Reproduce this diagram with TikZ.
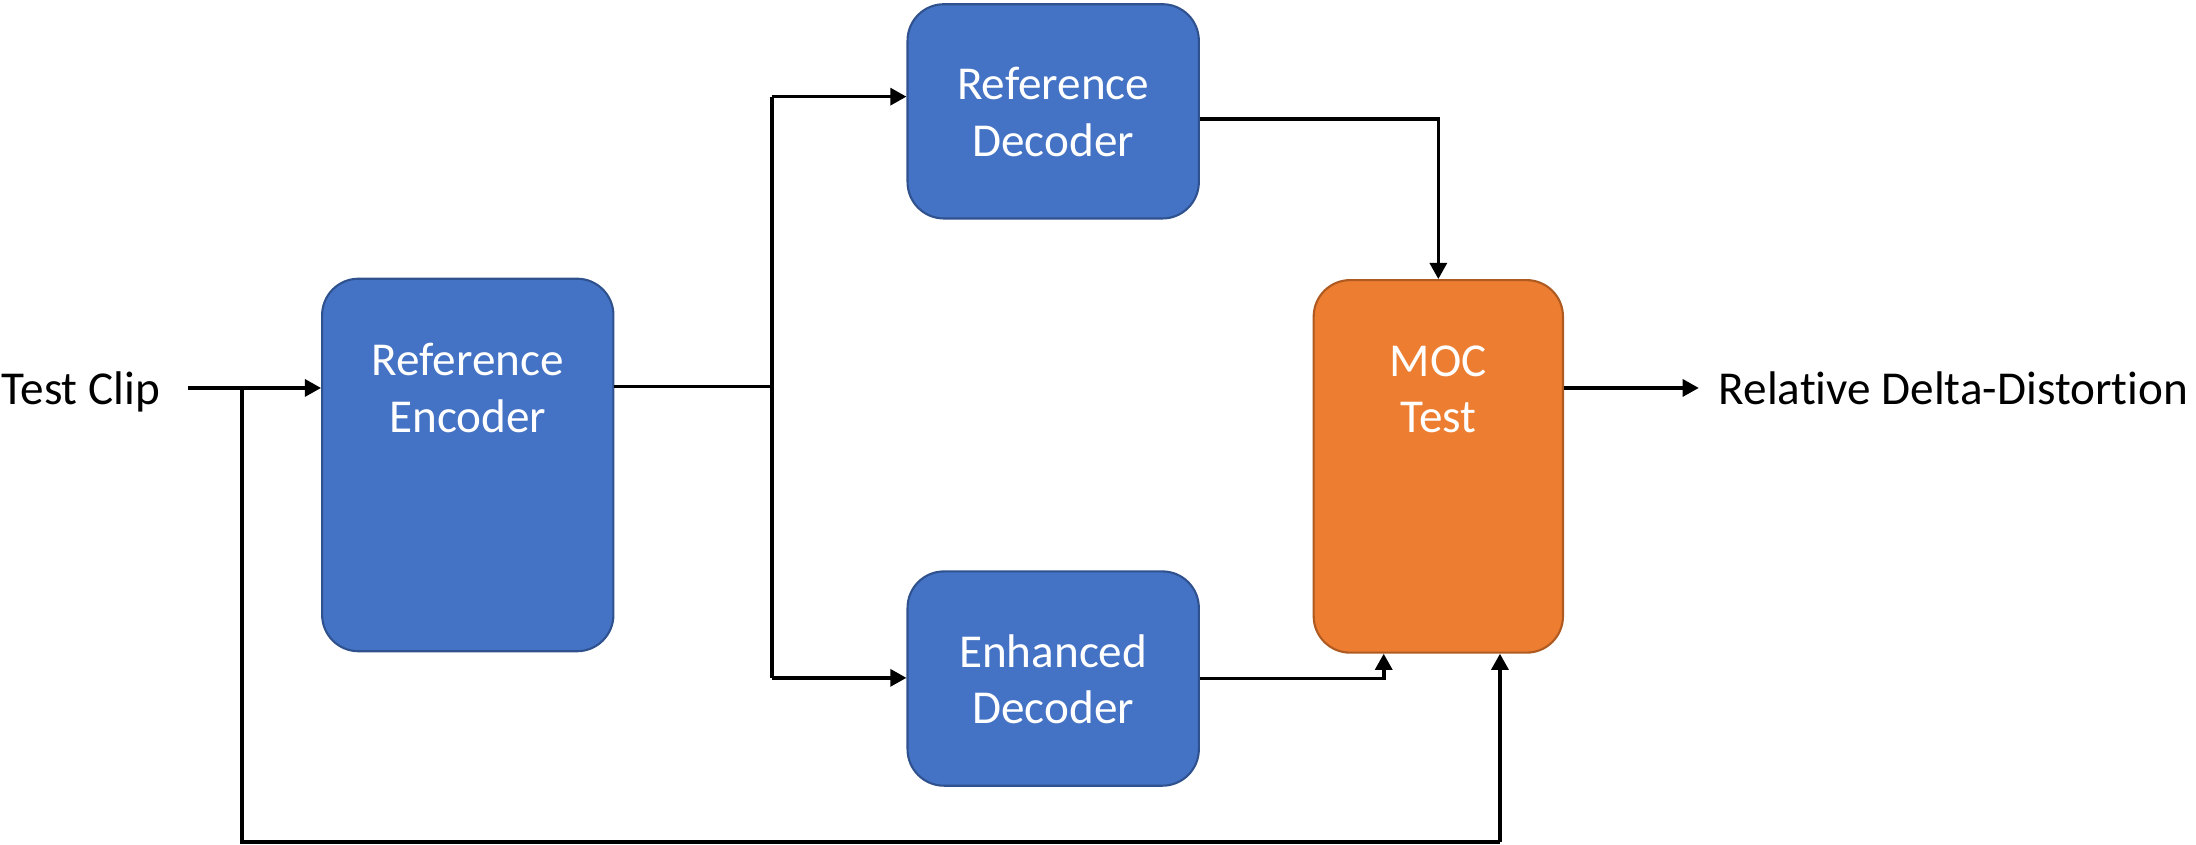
\documentclass[tikz,border=0pt]{standalone}
\usepackage{fontspec}
\setmainfont{Carlito}[Ligatures={NoCommon}]
\usetikzlibrary{arrows.meta}

\definecolor{blockblue}{HTML}{4472C4}
\definecolor{blockblueedge}{HTML}{2F528F}
\definecolor{mocorange}{HTML}{ED7D31}
\definecolor{mocorangeedge}{HTML}{AE5A21}

\tikzset{
  block/.style={draw=blockblueedge, fill=blockblue, line width=1.5pt,
    rounded corners=26pt, inner sep=0pt},
  mocblock/.style={draw=mocorangeedge, fill=mocorange, line width=1.5pt,
    rounded corners=26pt, inner sep=0pt},
  boxtext/.style={text=white, align=center, inner sep=0pt,
    font=\fontsize{33.7}{40.5}\selectfont},
  plaintext/.style={text=black, inner sep=0pt,
    font=\fontsize{33.7}{40.5}\selectfont},
  wire/.style={line width=2.6pt, draw=black},
  flow/.style={wire, -{Triangle[length=11.5pt,width=12pt]}},
}

\begin{document}
\begin{tikzpicture}[x=1pt, y=-1pt]
  \useasboundingbox (0,0) rectangle (1568,603);

  % processing blocks
  \node[block, minimum width=208pt, minimum height=266pt] (enc) at (334,332) {};
  \node[boxtext] (enctext) at (334,277) {Reference\\Encoder};

  \node[block, minimum width=208pt, minimum height=153pt] (refdec) at (752,79.5) {};
  \node[boxtext] (refdectext) at (752,80) {Reference\\Decoder};

  \node[block, minimum width=208pt, minimum height=153pt] (enhdec) at (752,484.5) {};
  \node[boxtext] (enhdectext) at (752,485) {Enhanced\\Decoder};

  \node[mocblock, minimum width=178pt, minimum height=266pt] (moc) at (1027,333) {};
  \node[boxtext] (moctext) at (1027,278) {MOC\\Test};

  % input and output labels
  \node[plaintext, anchor=base west] (clip) at (1,288.5) {Test Clip};
  \node[plaintext, anchor=base west] (result) at (1227,288.5) {Relative Delta-Distortion};

  % routing points
  \coordinate (in)    at (134,277);
  \coordinate (tap)   at (173,277);
  \coordinate (split) at (551,276);
  \coordinate (up)    at (551,69);
  \coordinate (down)  at (551,484);
  \coordinate (loopL) at (173,601);
  \coordinate (loopR) at (1071,601);
  \coordinate (out)   at (1213,277);

  % test clip into the encoder, with the bypass loop to the MOC test
  \draw[flow] (in) -- (in -| enc.west);
  \draw[wire] (tap) -- (loopL) -- (loopR);
  \draw[flow] (loopR) -- (loopR |- moc.south);

  % encoder fan-out to both decoders
  \draw[wire] (split -| enc.east) -- (split);
  \draw[wire] (up) -- (down);
  \draw[flow] (up) -- (up -| refdec.west);
  \draw[flow] (down) -- (down -| enhdec.west);

  % decoders into the MOC test
  \draw[flow] ([yshift=-5.5pt]refdec.east) -| (moc.north);
  \draw[flow] (enhdec.east) -| ([xshift=-39pt]moc.south);

  % result
  \draw[flow] (out -| moc.east) -- (out);
\end{tikzpicture}
\end{document}
